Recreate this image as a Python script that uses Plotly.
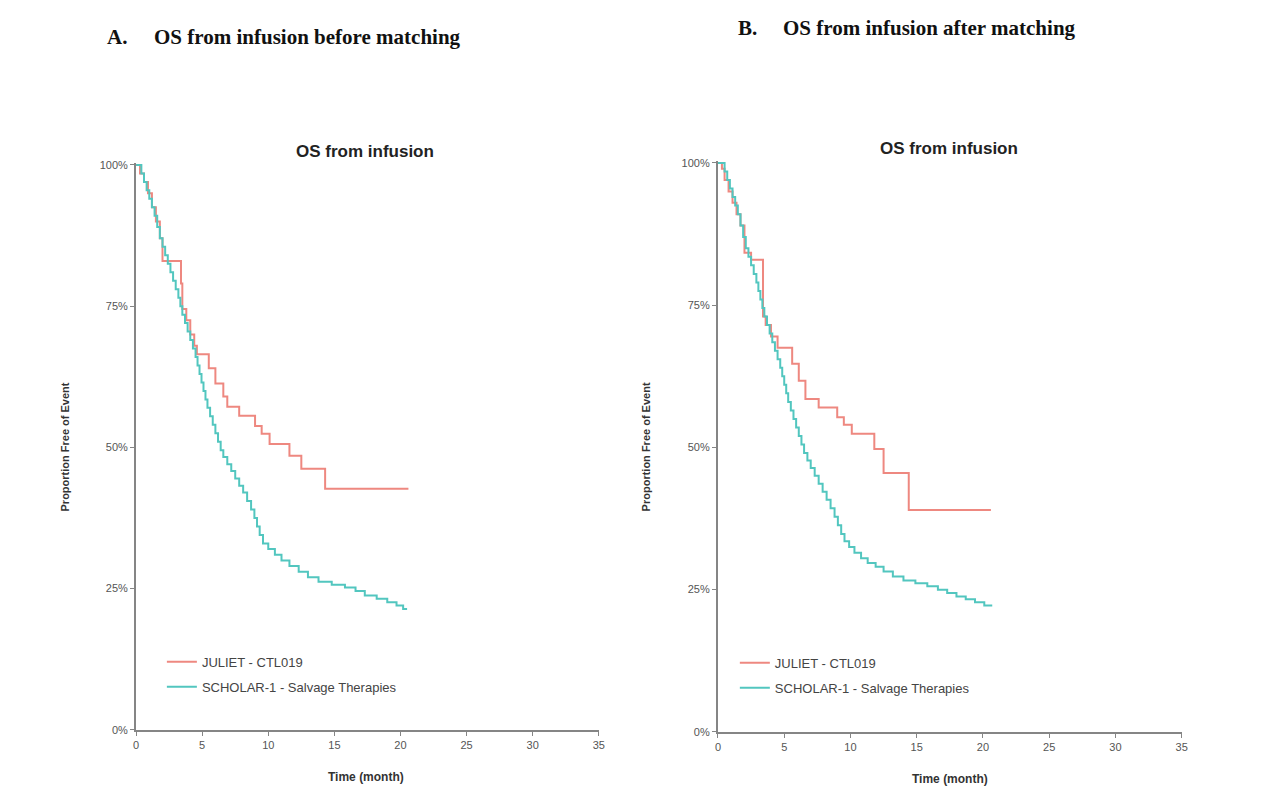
import plotly.graph_objects as go

# ---------------- data ----------------
# Panel A - before matching
a_juliet_t = [0, 0.3, 0.6, 0.9, 1.2, 1.5, 1.8, 2.0, 3.4, 3.5, 3.8, 4.1, 4.4, 4.6, 5.5, 6.0,
              6.6, 6.9, 7.8, 9.0, 9.5, 10.1, 11.6, 12.5, 14.3, 20.6]
a_juliet_s = [100, 98.5, 97, 95, 92.5, 90, 87, 83, 79, 74.5, 72.5, 70, 68, 66.5, 64, 61.3,
              59, 57.2, 55.6, 53.8, 52.4, 50.6, 48.5, 46.2, 42.7, 42.7]

a_scholar_t = [0, 0.4, 0.6, 0.8, 1.0, 1.2, 1.4, 1.6, 1.8, 2.0, 2.2, 2.4, 2.6, 2.8, 3.0, 3.2,
               3.35, 3.5, 3.7, 3.9, 4.1, 4.3, 4.5, 4.65, 4.8, 4.95, 5.1, 5.25, 5.4, 5.6, 5.8,
               6.0, 6.2, 6.4, 6.6, 6.9, 7.2, 7.5, 7.8, 8.1, 8.4, 8.7, 8.95, 9.15, 9.35, 9.6,
               10.0, 10.5, 11.0, 11.6, 12.3, 13.0, 13.8, 14.8, 15.8, 16.6, 17.3, 18.2, 19.0,
               19.7, 20.2, 20.5]
a_scholar_s = [100, 98.5, 97, 95.5, 94, 92.5, 91, 89, 87, 85.5, 84, 82.5, 81, 79.5, 78, 76.5,
               75, 73.5, 72, 70.5, 69, 67.5, 66, 64.5, 63, 61.5, 60, 58.5, 57, 55.5, 54,
               52.5, 51, 49.5, 48.3, 47, 45.8, 44.5, 43.2, 42, 40.5, 39, 37.5, 36, 34.5, 33,
               32, 31, 30, 29, 28, 27, 26.2, 25.7, 25.2, 24.6, 23.8, 23.2, 22.6,
               22.0, 21.4, 21.4]

# Panel B - after matching
b_juliet_t = [0, 0.3, 0.5, 0.8, 1.1, 1.4, 1.7, 2.0, 2.5, 3.4, 3.6, 4.0, 4.5, 5.6, 6.1, 6.6,
              7.6, 9.0, 9.5, 10.1, 11.8, 12.5, 14.4, 20.6]
b_juliet_s = [100, 99, 97, 95, 93, 91, 89, 84.2, 83, 73, 71.5, 69.5, 67.5, 64.7, 61.7, 58.5,
              57, 55.3, 54, 52.4, 49.7, 45.5, 39.0, 39.0]

b_scholar_t = [0, 0.5, 0.7, 0.9, 1.1, 1.3, 1.5, 1.7, 1.9, 2.1, 2.3, 2.5, 2.7, 2.9, 3.05, 3.2,
               3.35, 3.5, 3.7, 3.9, 4.1, 4.3, 4.5, 4.7, 4.85, 5.0, 5.15, 5.3, 5.5, 5.7, 5.9,
               6.1, 6.3, 6.5, 6.75, 7.0, 7.3, 7.6, 7.9, 8.2, 8.5, 8.8, 9.05, 9.3, 9.55, 9.9,
               10.3, 10.8, 11.3, 11.9, 12.5, 13.2, 14.0, 14.9, 15.8, 16.6, 17.3, 18.0, 18.7,
               19.4, 20.1, 20.7]
b_scholar_s = [100, 98.5, 97, 95.5, 94, 92.5, 91, 89, 87, 85, 83.5, 82, 80.5, 79, 77.5, 76,
               74.5, 73, 71.5, 70, 68.5, 67, 65.5, 64, 62.5, 61, 59.5, 58, 56.5, 55, 53.5,
               52, 50.5, 49, 47.7, 46.4, 45, 43.6, 42.2, 40.8, 39.3, 37.8, 36.3, 34.8, 33.5, 32.5,
               31.5, 30.5, 29.7, 29, 28.2, 27.3, 26.6, 26.1, 25.6, 25, 24.4, 23.8, 23.3,
               22.8, 22.2, 22.2]

series_names = ["JULIET - CTL019", "SCHOLAR-1 - Salvage Therapies"]
y_tickvals = [0, 0.25, 0.5, 0.75, 1.0]
y_ticktext = ["0%", "25%", "50%", "75%", "100%"]
x_tickvals = [0, 5, 10, 15, 20, 25, 30, 35]

RED = "#EE8880"
CYAN = "#52C6BF"

W, H = 1287, 794


def px(x):
    return x / W


def py(y):
    # small vertical correction measured from the rendered picture
    yc = (y - 3.0) / 0.9876
    return (H - yc) / H


fig = go.Figure()


def add_curves(t1, s1, t2, s2, xa, ya, legend):
    fig.add_trace(go.Scatter(x=t1, y=[v / 100 for v in s1], mode="lines", line_shape="hv",
                             line=dict(color=RED, width=2), name=series_names[0],
                             xaxis=xa, yaxis=ya, legend=legend, legendgroup=legend + "a"))
    fig.add_trace(go.Scatter(x=t2, y=[v / 100 for v in s2], mode="lines", line_shape="hv",
                             line=dict(color=CYAN, width=2), name=series_names[1],
                             xaxis=xa, yaxis=ya, legend=legend, legendgroup=legend + "b"))


add_curves(a_juliet_t, a_juliet_s, a_scholar_t, a_scholar_s, "x", "y", "legend")
add_curves(b_juliet_t, b_juliet_s, b_scholar_t, b_scholar_s, "x2", "y2", "legend2")

axis_common = dict(showline=True, linecolor="#858585", linewidth=2, ticks="outside",
                   ticklen=4, tickwidth=1, tickcolor="#858585", showgrid=False, zeroline=False,
                   tickfont=dict(family="Liberation Sans, Arial", size=11, color="#555555"))

YTOP = 1.004
fig.update_layout(
    width=W, height=H, margin=dict(l=0, r=0, t=0, b=0),
    paper_bgcolor="white", plot_bgcolor="white",
    xaxis=dict(domain=[px(134), px(600)], range=[0, 35], tickvals=x_tickvals, anchor="y",
               **axis_common),
    yaxis=dict(domain=[py(729), py(161.7)], range=[0, YTOP], tickvals=y_tickvals,
               ticktext=y_ticktext, anchor="x", **axis_common),
    xaxis2=dict(domain=[px(720), px(1187)], range=[0, 35], tickvals=x_tickvals, anchor="y2",
                **axis_common),
    yaxis2=dict(domain=[py(731), py(159.7)], range=[0, YTOP], tickvals=y_tickvals,
                ticktext=y_ticktext, anchor="x2", **axis_common),
    legend=dict(x=px(160), y=py(646), xanchor="left", yanchor="top", bgcolor="rgba(0,0,0,0)",
                font=dict(family="Liberation Sans, Arial", size=13, color="#444444"),
                tracegroupgap=5, itemwidth=30),
    legend2=dict(x=px(737), y=py(647), xanchor="left", yanchor="top", bgcolor="rgba(0,0,0,0)",
                 font=dict(family="Liberation Sans, Arial", size=13, color="#444444"),
                 tracegroupgap=5, itemwidth=30),
    showlegend=True,
)

serif = "Liberation Serif, Times New Roman"
sans = "Liberation Sans, Arial"
annots = [
    dict(x=px(103), y=py(36), text="<b>A.</b>", font=dict(family=serif, size=21, color="#111"),
         xanchor="left"),
    dict(x=px(150), y=py(36), text="<b>OS from infusion before matching</b>",
         font=dict(family=serif, size=21, color="#111"), xanchor="left"),
    dict(x=px(738), y=py(27), text="<b>B.</b>", font=dict(family=serif, size=21, color="#111"),
         xanchor="left"),
    dict(x=px(783), y=py(27), text="<b>OS from infusion after matching</b>",
         font=dict(family=serif, size=21, color="#111"), xanchor="left"),
    dict(x=px(365), y=py(151), text="<b>OS from infusion</b>",
         font=dict(family=sans, size=17, color="#222"), xanchor="center"),
    dict(x=px(953), y=py(148), text="<b>OS from infusion</b>",
         font=dict(family=sans, size=17, color="#222"), xanchor="center"),
    dict(x=px(62), y=py(446), text="<b>Proportion Free of Event</b>", textangle=-90,
         font=dict(family=sans, size=11, color="#333"), xanchor="center"),
    dict(x=px(647), y=py(446), text="<b>Proportion Free of Event</b>", textangle=-90,
         font=dict(family=sans, size=11, color="#333"), xanchor="center"),
    dict(x=px(366), y=py(776), text="<b>Time (month)</b>",
         font=dict(family=sans, size=12, color="#333"), xanchor="center"),
    dict(x=px(954), y=py(778), text="<b>Time (month)</b>",
         font=dict(family=sans, size=12, color="#333"), xanchor="center"),
]
for a in annots:
    a.update(xref="paper", yref="paper", showarrow=False, yanchor="middle")
    fig.add_annotation(**a)

page_fix = ("document.documentElement.style.overflow='hidden';"
            "document.body.style.margin='0';"
            "document.body.style.overflow='hidden';")
fig.write_html("out.html", post_script=page_fix, config={"displayModeBar": False})
